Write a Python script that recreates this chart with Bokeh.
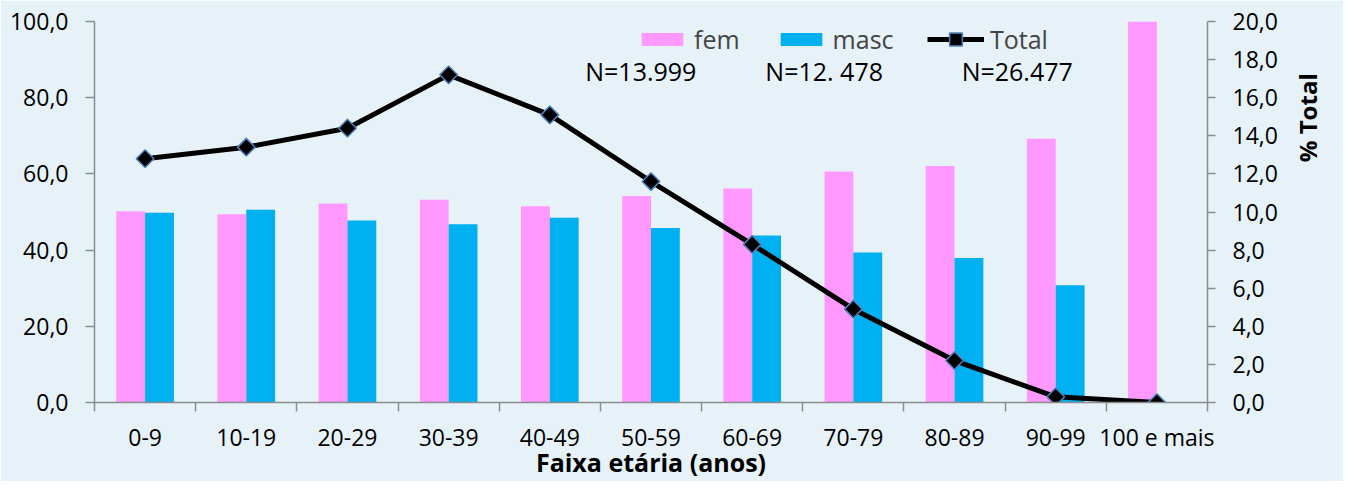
import numpy as np
from bokeh.plotting import figure
from bokeh.models import (Range1d, LinearAxis, FixedTicker, Legend, LegendItem,
                          ColumnDataSource)
from bokeh.transform import dodge
from bokeh.core.properties import value
from bokeh.embed import file_html
from bokeh.resources import INLINE

# ---------------- data ----------------
categories = ["0-9", "10-19", "20-29", "30-39", "40-49", "50-59",
              "60-69", "70-79", "80-89", "90-99", "100 e mais"]
fem = [50.2, 49.4, 52.2, 53.2, 51.5, 54.2, 56.2, 60.6, 62.1, 69.2, 100.0]
masc = [49.8, 50.6, 47.8, 46.8, 48.5, 45.8, 43.8, 39.4, 37.9, 30.8, 0.0]
total = [12.8, 13.4, 14.4, 17.2, 15.1, 11.6, 8.3, 4.9, 2.2, 0.3, 0.0]
left_ticks = [0, 20, 40, 60, 80, 100]
right_ticks = [0, 2, 4, 6, 8, 10, 12, 14, 16, 18, 20]
n_labels = ["N=13.999", "N=12. 478", "N=26.477"]
x_title = "Faixa etária (anos)"
y2_title = "% Total"

# ---------------- style ----------------
FONT = "Open Sans"
BG = "#E6F2F8"
AXIS = "#8C8C8C"
FEM_C = "#FF99FF"
MASC_C = "#00B0F0"

idx = np.arange(len(categories)) + 0.5
src = ColumnDataSource(dict(x=idx, fem=fem, masc=masc, total=total))

p = figure(width=1343, height=481, output_backend="svg", toolbar_location=None,
           x_range=Range1d(0, len(categories)), y_range=Range1d(0, 100),
           min_border_left=94, min_border_right=133, min_border_top=21,
           min_border_bottom=79, background_fill_color=BG, border_fill_color=BG,
           outline_line_color=None, x_axis_type=None, y_axis_type=None)
p.xgrid.visible = False
p.ygrid.visible = False
p.extra_y_ranges = {"total": Range1d(0, 20)}

bw = 0.285
fem_r = p.vbar(x=dodge("x", -bw / 2), top="fem", width=bw, source=src,
               fill_color=FEM_C, line_color=None)
masc_r = p.vbar(x=dodge("x", bw / 2), top="masc", width=bw, source=src,
                fill_color=MASC_C, line_color=None)
line_r = p.line(x="x", y="total", source=src, y_range_name="total",
                line_color="black", line_width=5)
mark_r = p.scatter(x="x", y="total", source=src, y_range_name="total",
                   marker="square", angle=np.pi / 4, size=12.5,
                   fill_color="black", line_color="#4F81BD", line_width=1.5)

# x axis: labels at centres, ticks at boundaries
xax = LinearAxis(
    ticker=FixedTicker(ticks=list(idx), minor_ticks=list(range(len(categories) + 1))),
    major_label_overrides={float(v): c for v, c in zip(idx, categories)},
    major_tick_out=0, major_tick_in=0, minor_tick_out=9, minor_tick_in=0,
    minor_tick_line_color=AXIS, minor_tick_line_width=1.5,
    axis_line_color=AXIS, axis_line_width=1.5,
    major_label_standoff=9, major_label_text_font=FONT,
    major_label_text_font_size="23px", major_label_text_color="black",
    axis_label=x_title, axis_label_standoff=-11, axis_label_text_font=FONT,
    axis_label_text_font_size="25px", axis_label_text_font_style="bold",
    axis_label_text_color="black")
p.add_layout(xax, "below")

yax = LinearAxis(
    ticker=FixedTicker(ticks=left_ticks, minor_ticks=[]),
    major_label_overrides={v: f"{v:.1f}".replace(".", ",") for v in left_ticks},
    major_tick_out=9, major_tick_in=0, major_tick_line_color=AXIS,
    major_tick_line_width=1.5, minor_tick_out=0, minor_tick_in=0,
    axis_line_color=AXIS, axis_line_width=1.5, major_label_standoff=17,
    major_label_text_font=FONT, major_label_text_font_size="23px",
    major_label_text_color="black")
p.add_layout(yax, "left")

# right-axis title sits in the upper part of the axis (leading nbsp padding)
y2ax = LinearAxis(
    y_range_name="total",
    ticker=FixedTicker(ticks=right_ticks, minor_ticks=[]),
    major_label_overrides={v: f"{v:.1f}".replace(".", ",") for v in right_ticks},
    major_tick_out=8, major_tick_in=0, major_tick_line_color=AXIS,
    major_tick_line_width=1.5, minor_tick_out=0, minor_tick_in=0,
    axis_line_color=AXIS, axis_line_width=1.5, major_label_standoff=17,
    major_label_text_font=FONT, major_label_text_font_size="23px",
    major_label_text_color="black",
    axis_label="\u00a0" * 8 + y2_title, axis_label_orientation=np.pi / 2,
    axis_label_standoff=27, axis_label_text_font=FONT,
    axis_label_text_font_size="24px", axis_label_text_font_style="bold",
    axis_label_text_color="black")
p.add_layout(y2ax, "right")

# N= annotations
n_x = [4.85, 6.63, 8.57]
n_y = [86.9, 86.9, 86.9]
p.text(x=n_x, y=n_y, text=n_labels, text_font=value(FONT),
       text_font_size="25px", text_baseline="middle", text_align="left",
       text_color="black")

common = dict(orientation="horizontal", background_fill_alpha=0,
              border_line_color=None, padding=0, margin=0, spacing=35,
              label_standoff=6, label_text_font=FONT,
              label_text_font_size="25px")
legend1 = Legend(items=[LegendItem(label="fem", renderers=[fem_r]),
                        LegendItem(label="masc", renderers=[masc_r])],
                 location=(542, 346), glyph_width=52, glyph_height=16, **common)
legend2 = Legend(items=[LegendItem(label="Total", renderers=[line_r, mark_r])],
                 location=(833, 346), glyph_width=57, glyph_height=32, **common)
p.add_layout(legend1)
p.add_layout(legend2)

open("out.html", "w").write(file_html(p, INLINE))
